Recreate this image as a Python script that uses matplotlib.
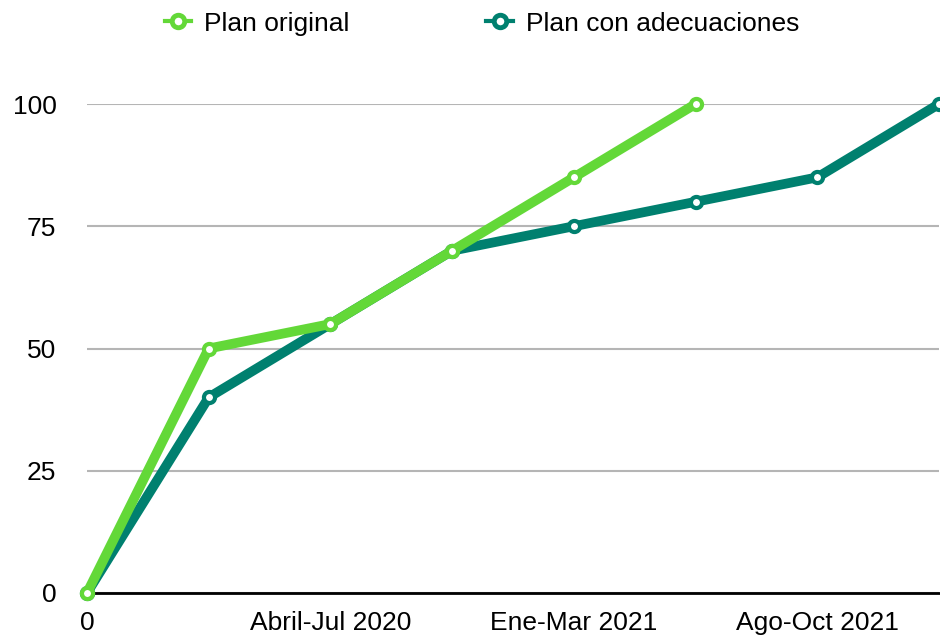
import matplotlib.pyplot as plt
from matplotlib.lines import Line2D

plt.rcParams['font.family'] = ['Liberation Sans', 'DejaVu Sans']

# categories on x (only some are labelled)
categories = ['0', '', 'Abril-Jul 2020', '', 'Ene-Mar 2021', '', 'Ago-Oct 2021', '']

# series values
plan_original = [0, 50, 55, 70, 85, 100]
plan_adecuaciones = [0, 40, 55, 70, 75, 80, 85, 100]

green = '#63d838'
teal = '#00806f'

fig = plt.figure(figsize=(9.4, 6.41), dpi=100)
ax = fig.add_axes([87 / 940, 1 - 593 / 641, (939 - 87) / 940, (593 - 104) / 641])

x_adec = list(range(len(plan_adecuaciones)))
x_orig = list(range(len(plan_original)))

ax.plot(x_adec, plan_adecuaciones, color=teal, linewidth=7, marker='o', markersize=8,
        markerfacecolor='white', markeredgecolor=teal, markeredgewidth=3,
        clip_on=False, zorder=3, solid_capstyle='butt')
ax.plot(x_orig, plan_original, color=green, linewidth=7, marker='o', markersize=8,
        markerfacecolor='white', markeredgecolor=green, markeredgewidth=3,
        clip_on=False, zorder=4, solid_capstyle='butt')

ax.set_xlim(0, len(categories) - 1)
ax.set_ylim(0, 100)
ax.set_xticks(range(len(categories)))
ax.set_xticklabels(categories)
ax.set_yticks([0, 25, 50, 75, 100])

ax.grid(axis='y', color='#b5b5b5', linewidth=1.5)
ax.set_axisbelow(True)
for s in ['top', 'right', 'left']:
    ax.spines[s].set_visible(False)
ax.spines['bottom'].set_color('black')
ax.spines['bottom'].set_linewidth(2)
ax.spines['bottom'].set_zorder(2)
ax.tick_params(axis='both', length=0, labelsize=19)
ax.tick_params(axis='y', pad=22)
ax.tick_params(axis='x', pad=13)

# legend handles: ring with short stubs
handles = [
    Line2D([], [], color=green, linewidth=3, marker='o', markersize=9,
           markerfacecolor='white', markeredgecolor=green, markeredgewidth=3.5),
    Line2D([], [], color=teal, linewidth=3, marker='o', markersize=9,
           markerfacecolor='white', markeredgecolor=teal, markeredgewidth=3.5),
]
fig.legend(handles, ['Plan original', 'Plan con adecuaciones'], loc='upper left',
           bbox_to_anchor=(141 / 940, 1.019), ncol=2, frameon=False, fontsize=19,
           handlelength=1.0, columnspacing=5.19, handletextpad=0.49)

fig.savefig('out.png', dpi=100)
